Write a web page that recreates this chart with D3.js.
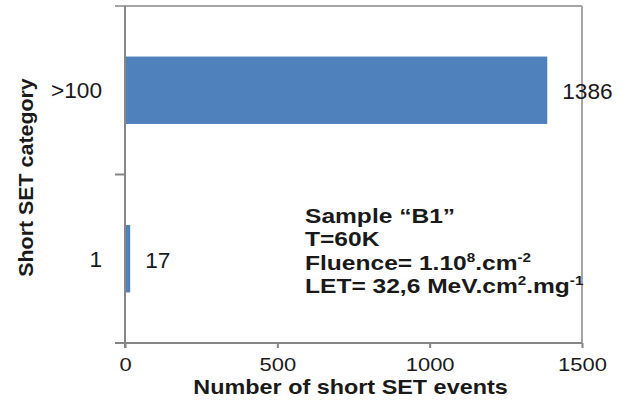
<!DOCTYPE html>
<html>
<head>
<meta charset="utf-8">
<script src="https://cdn.jsdelivr.net/npm/d3@7"></script>
<style>
  html, body { margin: 0; padding: 0; background: #fff; }
  svg { display: block; font-family: "Liberation Sans", Arial, sans-serif; }
</style>
</head>
<body>
<svg id="chart" width="626" height="405"></svg>
<script>
// Short SET events per category
const categories = [">100", "1"];
const counts = [1386, 17];
const xTicks = [0, 500, 1000, 1500];
const xTitle = "Number of short SET events";
const yTitle = "Short SET category";
// Annotation lines: plain runs and superscript runs
const noteLines = [
  [["Sample \u201CB1\u201D", false]],
  [["T=60K", false]],
  [["Fluence= 1.10", false], ["8", true], [".cm", false], ["-2", true]],
  [["LET= 32,6 MeV.cm", false], ["2", true], [".mg", false], ["-1", true]]
];

const svg = d3.select("#chart");
const W = 626, H = 405;
const plot = { left: 125, right: 582, top: 6, bottom: 343 };

const x = d3.scaleLinear().domain([0, 1500]).range([plot.left, plot.right]);
const y = d3.scaleBand().domain(categories).range([plot.top, plot.bottom])
  .paddingInner(0.6).paddingOuter(0.3);

const axisColor = "#878787";
const frameColor = "#a6a6a6";
const textColor = "#1a1a1a";
const FONT = "Liberation Sans, Arial, sans-serif";

// Text is set slightly wide; each element is stretched along its baseline
function placeText(parent, px, py, k, angle = 0) {
  return parent.append("text")
    .attr("transform", `translate(${px},${py}) rotate(${angle}) scale(${k},1)`)
    .attr("font-family", FONT)
    .attr("fill", textColor);
}

svg.append("rect").attr("width", W).attr("height", H).attr("fill", "#fff");

// Frame: top and right edges
svg.append("line")
  .attr("x1", plot.left - 10).attr("x2", plot.right)
  .attr("y1", plot.top).attr("y2", plot.top)
  .attr("stroke", frameColor).attr("stroke-width", 2);
svg.append("line")
  .attr("x1", plot.right).attr("x2", plot.right)
  .attr("y1", plot.top).attr("y2", plot.bottom)
  .attr("stroke", frameColor).attr("stroke-width", 2);

// Bars
const data = categories.map((c, i) => ({ cat: c, value: counts[i] }));
svg.append("g").selectAll("rect").data(data).join("rect")
  .attr("x", x(0))
  .attr("y", d => y(d.cat))
  .attr("width", d => x(d.value) - x(0))
  .attr("height", y.bandwidth())
  .attr("fill", "#4f81bd");

// Value labels
const valueGroup = svg.append("g");
data.forEach(d => {
  placeText(valueGroup, x(d.value) + 15, y(d.cat) + y.bandwidth() / 2 + 9, 1.03)
    .attr("font-size", 22)
    .text(d.value);
});

// X axis
const xAxis = svg.append("g")
  .attr("transform", `translate(0,${plot.bottom})`)
  .call(d3.axisBottom(x).tickValues(xTicks).tickSize(5).tickSizeOuter(0).tickPadding(10)
    .tickFormat(d3.format("d")));
xAxis.select(".domain").remove();
xAxis.selectAll(".tick line").attr("stroke", axisColor).attr("stroke-width", 2);
xAxis.selectAll(".tick text")
  .attr("font-size", 18).attr("fill", textColor).attr("font-family", FONT)
  .attr("transform", "scale(1.22,1)");
xAxis.insert("line", ":first-child")
  .attr("x1", plot.left - 10).attr("x2", plot.right)
  .attr("y1", 0).attr("y2", 0)
  .attr("stroke", axisColor).attr("stroke-width", 2);

// Y axis: labels at band centres, ticks at band boundaries
const yAxis = svg.append("g")
  .attr("transform", `translate(${plot.left},0)`)
  .call(d3.axisLeft(y).tickSize(0).tickPadding(0));
yAxis.select(".domain").remove();
yAxis.selectAll(".tick text")
  .attr("font-size", 22).attr("fill", textColor).attr("font-family", FONT)
  .attr("x", 0).attr("dy", "0.36em")
  .attr("transform", "translate(-23,0) scale(1.03,1)");
yAxis.append("line")
  .attr("x1", 0).attr("x2", 0)
  .attr("y1", plot.top).attr("y2", plot.bottom + 5)
  .attr("stroke", axisColor).attr("stroke-width", 2);
const midBoundary = (y(categories[0]) + y.bandwidth() + y(categories[1])) / 2;
yAxis.append("line")
  .attr("x1", -10).attr("x2", 0)
  .attr("y1", midBoundary).attr("y2", midBoundary)
  .attr("stroke", axisColor).attr("stroke-width", 2);

// Axis titles
placeText(svg, 350.5, 394, 1.17)
  .attr("text-anchor", "middle")
  .attr("font-size", 20).attr("font-weight", "bold")
  .text(xTitle);

placeText(svg, 33, 177.5, 1.07, -90)
  .attr("text-anchor", "middle")
  .attr("font-size", 20).attr("font-weight", "bold")
  .text(yTitle);

// Annotation block
const lineGap = 23.4;
const noteX = 305, noteY = 223;
const supRaise = 8;
noteLines.forEach((runs, i) => {
  const t = placeText(svg, noteX, noteY + i * lineGap, 1.17)
    .attr("font-size", 21).attr("font-weight", "bold");
  let raised = false;
  runs.forEach(([str, isSup]) => {
    const span = t.append("tspan").text(str);
    if (isSup && !raised) { span.attr("dy", -supRaise); raised = true; }
    else if (!isSup && raised) { span.attr("dy", supRaise); raised = false; }
    if (isSup) span.attr("font-size", 13);
  });
});
</script>
</body>
</html>
